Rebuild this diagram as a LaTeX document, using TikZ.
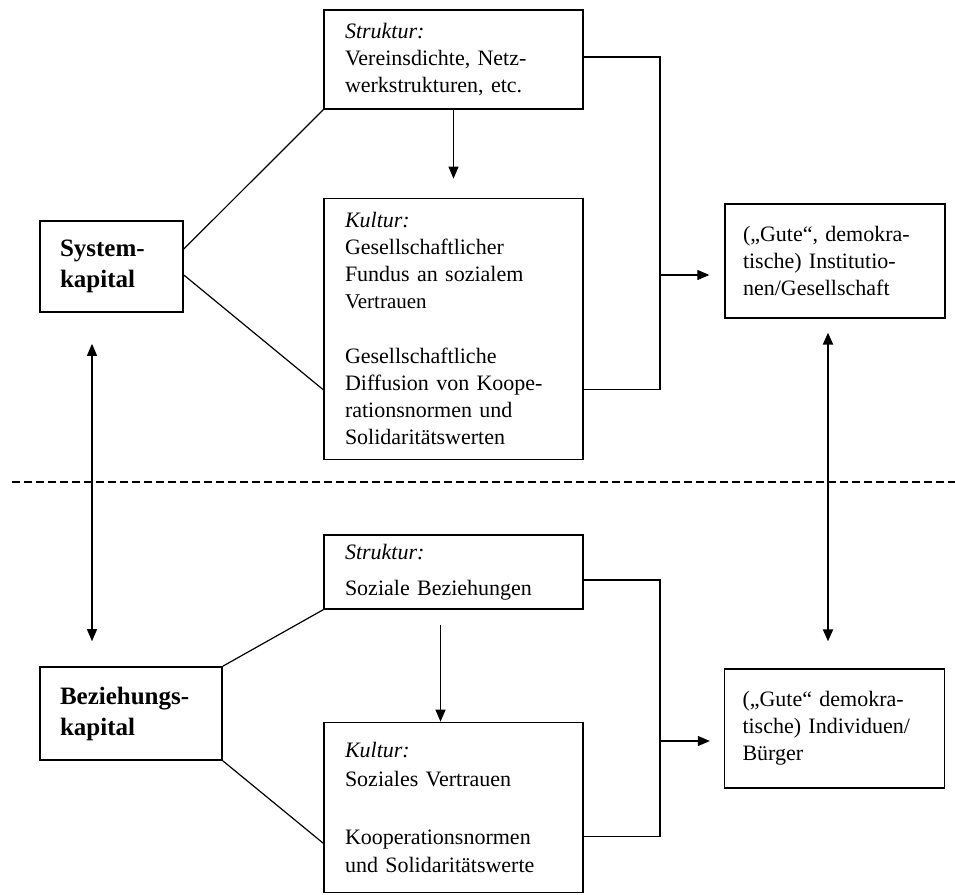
\documentclass[tikz,border=0pt]{standalone}
\usepackage{fontspec}
\setmainfont{Liberation Serif}
\usetikzlibrary{positioning,arrows.meta}

\tikzset{
  kasten/.style={draw, line width=1.3pt, align=left, inner xsep=21pt, text width=217pt, minimum width=259pt, font=\fontsize{22}{27}\selectfont},
  kapital/.style={draw, line width=1.6pt, align=left, inner xsep=20pt, text width=103pt, font=\fontsize{25}{31}\selectfont\bfseries},
  ziel/.style={draw, line width=1.3pt, align=left, inner xsep=18pt, text width=184pt, font=\fontsize{22}{27}\selectfont},
  linie/.style={line width=1.2pt},
  pfeil/.style={line width=1.2pt, -{Triangle[length=12pt,width=10pt]}},
  doppel/.style={line width=1.2pt, {Triangle[length=12pt,width=10pt]}-{Triangle[length=12pt,width=10pt]}},
  trenn/.style={line width=2.5pt, dash pattern=on 8pt off 4pt}
}

\begin{document}
\begin{tikzpicture}[x=1pt, y=-1pt]
  \useasboundingbox (0,0) rectangle (955,894);

  % Kapitalformen
  \node[kapital, minimum height=91pt] (sys) at (111.5,266.5) {System-\\kapital};
  \node[kapital, text width=142pt, minimum height=93pt] (bez) at (131,713.5) {Beziehungs-\\kapital};

  % Systemebene
  \node[kasten, minimum height=99pt] (so) at (453.5,59.5) {\textit{Struktur:}\\Vereinsdichte, Netz-\\werkstrukturen, etc.};
  \node[kasten, minimum height=261pt, below=88pt of so] (ko) {\textit{Kultur:}\\Gesellschaftlicher\\Fundus an sozialem\\{\fontsize{21}{25}\selectfont Vertrauen}\\[28pt]Gesellschaftliche\\Diffusion von Koope-\\rationsnormen und\\Solidaritätswerten};
  \node[ziel, minimum height=114pt] (io) at (835,261) {(„Gute“, demokra-\\tische) Institutio-\\nen/Gesellschaft};

  % Individualebene
  \node[kasten, minimum height=74pt] (su) at (453.5,572) {\textit{Struktur:}\\[9pt]Soziale Beziehungen};
  \node[kasten, minimum height=170pt, below=112pt of su] (ku) {\textit{Kultur:}\\[2pt]Soziales Vertrauen\\[31pt]Kooperationsnormen\\[1pt]und Solidaritätswerte};
  \node[ziel, minimum height=119pt] (iu) at (834.5,728.5) {(„Gute“ demokra-\\tische) Individuen/\\Bürger};

  % Trennlinie
  \coordinate (tl) at (12,482);
  \coordinate (tr) at (955,482);
  \draw[trenn] (tl) -- (tr);

  % Verbindungen oben
  \coordinate (bo) at (660,275);
  \draw[linie] ([yshift=17.5pt]sys.east) -- (so.south west);
  \draw[linie] ([yshift=-8.5pt]sys.east) -- ([yshift=-61pt]ko.west);
  \draw[pfeil, shorten >=19pt] (so.south) -- (ko.north);
  \draw[linie] ([yshift=2.5pt]so.east) -| (bo) |- ([yshift=-61pt]ko.east);
  \draw[pfeil, shorten >=15pt] (bo) -- (bo -| io.west);

  % Verbindungen unten
  \coordinate (bu) at (660,741);
  \draw[linie] (bez.north east) -- (su.south west);
  \draw[linie] (bez.south east) -- ([yshift=-36pt]ku.west);
  \draw[pfeil, shorten <=15pt] ([xshift=-13pt]su.south) -- ([xshift=-13pt]ku.north);
  \draw[linie] ([yshift=-8pt]su.east) -| (bu) |- ([yshift=-29pt]ku.east);
  \draw[pfeil, shorten >=14pt] (bu) -- (bu -| iu.west);

  % Ebenen
  \coordinate (al) at (92,0);
  \coordinate (ar) at (828,0);
  \draw[doppel, shorten <=31pt, shorten >=25pt] (sys.south -| al) -- (bez.north -| al);
  \draw[doppel, line width=2.2pt, shorten <=14pt, shorten >=27pt] (io.south -| ar) -- (iu.north -| ar);
\end{tikzpicture}
\end{document}
